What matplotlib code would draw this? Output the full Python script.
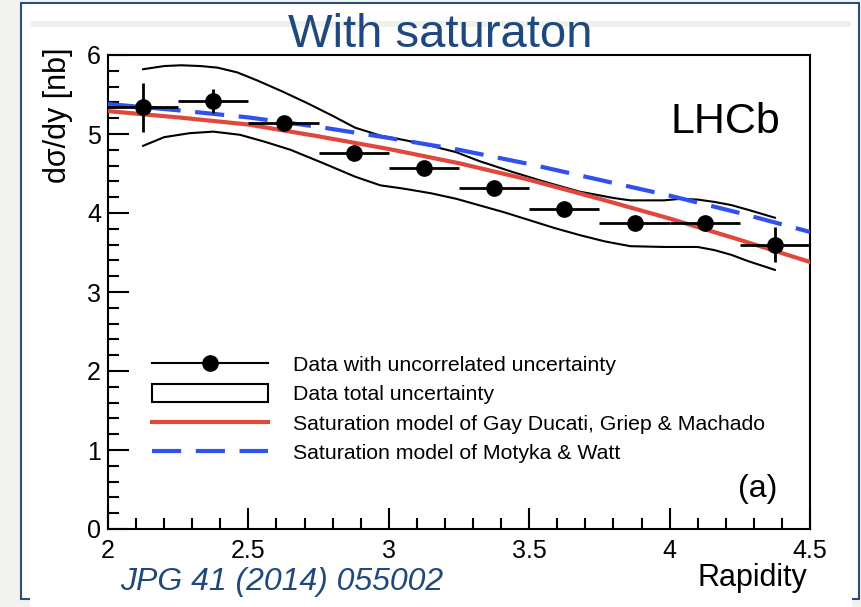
import numpy as np
import matplotlib
matplotlib.use("Agg")
import matplotlib.pyplot as plt
import matplotlib.patches as mpatches
from matplotlib.lines import Line2D
from matplotlib.ticker import MultipleLocator, FormatStrFormatter

plt.rcParams['font.family'] = ['Liberation Sans', 'DejaVu Sans']

# LHCb data points (rapidity bins of width 0.25)
y_centres = [2.125, 2.375, 2.625, 2.875, 3.125, 3.375, 3.625, 3.875, 4.125, 4.375]
dsdy = [5.34, 5.42, 5.14, 4.76, 4.57, 4.32, 4.05, 3.87, 3.87, 3.60]
dsdy_err = [0.31, 0.15, 0.05, 0.04, 0.04, 0.04, 0.04, 0.05, 0.09, 0.22]
bin_half = 0.125

# total uncertainty band edges
upper_x = [2.125, 2.2, 2.26, 2.33, 2.39, 2.46, 2.53, 2.62, 2.71, 2.80, 2.88, 2.97, 3.06, 3.15,
           3.24, 3.32, 3.44, 3.56, 3.68, 3.80, 3.86, 3.98, 4.04, 4.10, 4.16, 4.22, 4.28, 4.375]
upper_y = [5.82, 5.86, 5.87, 5.86, 5.84, 5.78, 5.68, 5.54, 5.39, 5.23, 5.08, 4.98, 4.92, 4.85,
           4.77, 4.66, 4.52, 4.39, 4.27, 4.19, 4.16, 4.16, 4.18, 4.17, 4.14, 4.10, 4.04, 3.94]
lower_x = [2.125, 2.2, 2.29, 2.375, 2.47, 2.56, 2.65, 2.76, 2.88, 2.97, 3.05, 3.15, 3.24, 3.32,
           3.41, 3.50, 3.59, 3.68, 3.77, 3.86, 3.98, 4.10, 4.16, 4.22, 4.28, 4.375]
lower_y = [4.85, 4.96, 5.01, 5.03, 4.99, 4.90, 4.80, 4.64, 4.46, 4.35, 4.31, 4.25, 4.18, 4.10,
           4.01, 3.91, 3.81, 3.72, 3.64, 3.58, 3.57, 3.57, 3.53, 3.47, 3.39, 3.28]

# model curves
model_x = [2.0, 2.25, 2.5, 2.75, 3.0, 3.25, 3.5, 3.75, 4.0, 4.25, 4.5]
gdgm = [5.29, 5.21, 5.12, 4.97, 4.81, 4.63, 4.42, 4.18, 3.93, 3.66, 3.38]
mw = [5.38, 5.30, 5.21, 5.09, 4.95, 4.80, 4.62, 4.42, 4.22, 4.00, 3.76]

labels = ["Data with uncorrelated uncertainty", "Data total uncertainty",
          "Saturation model of Gay Ducati, Griep & Machado",
          "Saturation model of Motyka & Watt"]

W, H = 862, 607
fig = plt.figure(figsize=(8.62, 6.07), dpi=100)
fig.patch.set_facecolor('#f2f2ee')

# slide panel (kept below the axes)
fig.patches.append(mpatches.Rectangle((21 / W, 1 - 599 / H), 838 / W, 596 / H, transform=fig.transFigure,
                                      facecolor='white', edgecolor='#2b4d7e', lw=1.5, zorder=-3))
fig.patches.append(mpatches.Rectangle((30 / W, 0), 822 / W, 26 / H, transform=fig.transFigure,
                                      facecolor='white', edgecolor='none', zorder=-2))
fig.patches.append(mpatches.Rectangle((31 / W, 1 - 27 / H), 820 / W, 6 / H, transform=fig.transFigure,
                                      facecolor='#f0f0ec', edgecolor='none', zorder=-2))

ax = fig.add_axes([108 / W, 1 - 529 / H, 702 / W, 474 / H])
ax.set_facecolor('white')

ax.plot(upper_x, upper_y, color='black', lw=1.5, zorder=2)
ax.plot(lower_x, lower_y, color='black', lw=1.5, zorder=2)
ax.plot(model_x, gdgm, color='#e0483c', lw=3, zorder=3)
ax.plot(model_x, mw, color='#3050f0', lw=3, ls=(0, (7, 3.5)), zorder=3)
ax.errorbar(y_centres, dsdy, xerr=bin_half, yerr=dsdy_err, fmt='o', color='black',
            ms=11, elinewidth=2, capsize=0, zorder=4)

ax.set_xlim(2, 4.5)
ax.set_ylim(0, 6)
ax.xaxis.set_major_locator(MultipleLocator(0.5))
ax.xaxis.set_minor_locator(MultipleLocator(0.1))
ax.yaxis.set_major_locator(MultipleLocator(1))
ax.yaxis.set_minor_locator(MultipleLocator(0.2))
ax.xaxis.set_major_formatter(FormatStrFormatter('%g'))
ax.yaxis.set_major_formatter(FormatStrFormatter('%g'))
ax.tick_params(which='both', direction='in', top=False, right=False, width=1.5, labelsize=18)
ax.tick_params(which='major', length=15)
ax.tick_params(which='minor', length=8)
ax.tick_params(axis='x', pad=7)
ax.tick_params(axis='y', pad=5)
for s in ax.spines.values():
    s.set_linewidth(1.5)

ax.set_ylabel('dσ/dy [nb]', loc='top', fontsize=22)
ax.yaxis.set_label_coords(-0.05, 1.015)

ax.text(0.957, 0.835, 'LHCb', transform=ax.transAxes, ha='right', va='baseline', fontsize=31)
ax.text(0.954, 0.068, '(a)', transform=ax.transAxes, ha='right', va='baseline', fontsize=23)

handles = [Line2D([], [], color='black', marker='o', ms=11, lw=1.5),
           mpatches.Patch(facecolor='white', edgecolor='black', lw=1.5),
           Line2D([], [], color='#e0483c', lw=3),
           Line2D([], [], color='#3050f0', lw=3, ls=(0, (7, 3.5)))]
ax.legend(handles, labels, loc='upper left', bbox_to_anchor=(0.062, 0.367), frameon=False,
          fontsize=15.3, handlelength=5.5, handleheight=0.9, handletextpad=1.17, labelspacing=0.43,
          borderpad=0, borderaxespad=0)

fig.text(440 / W, 1 - 47 / H, 'With saturaton', ha='center', va='baseline', fontsize=34, color='#1f497d')
fig.text(120 / W, 1 - 590 / H, 'JPG 41 (2014) 055002', ha='left', va='baseline', fontsize=23,
         color='#1f497d', style='italic')
fig.text(807 / W, 1 - 586 / H, 'Rapidity', ha='right', va='baseline', fontsize=22)

fig.savefig('out.png', dpi=100, facecolor=fig.get_facecolor())
